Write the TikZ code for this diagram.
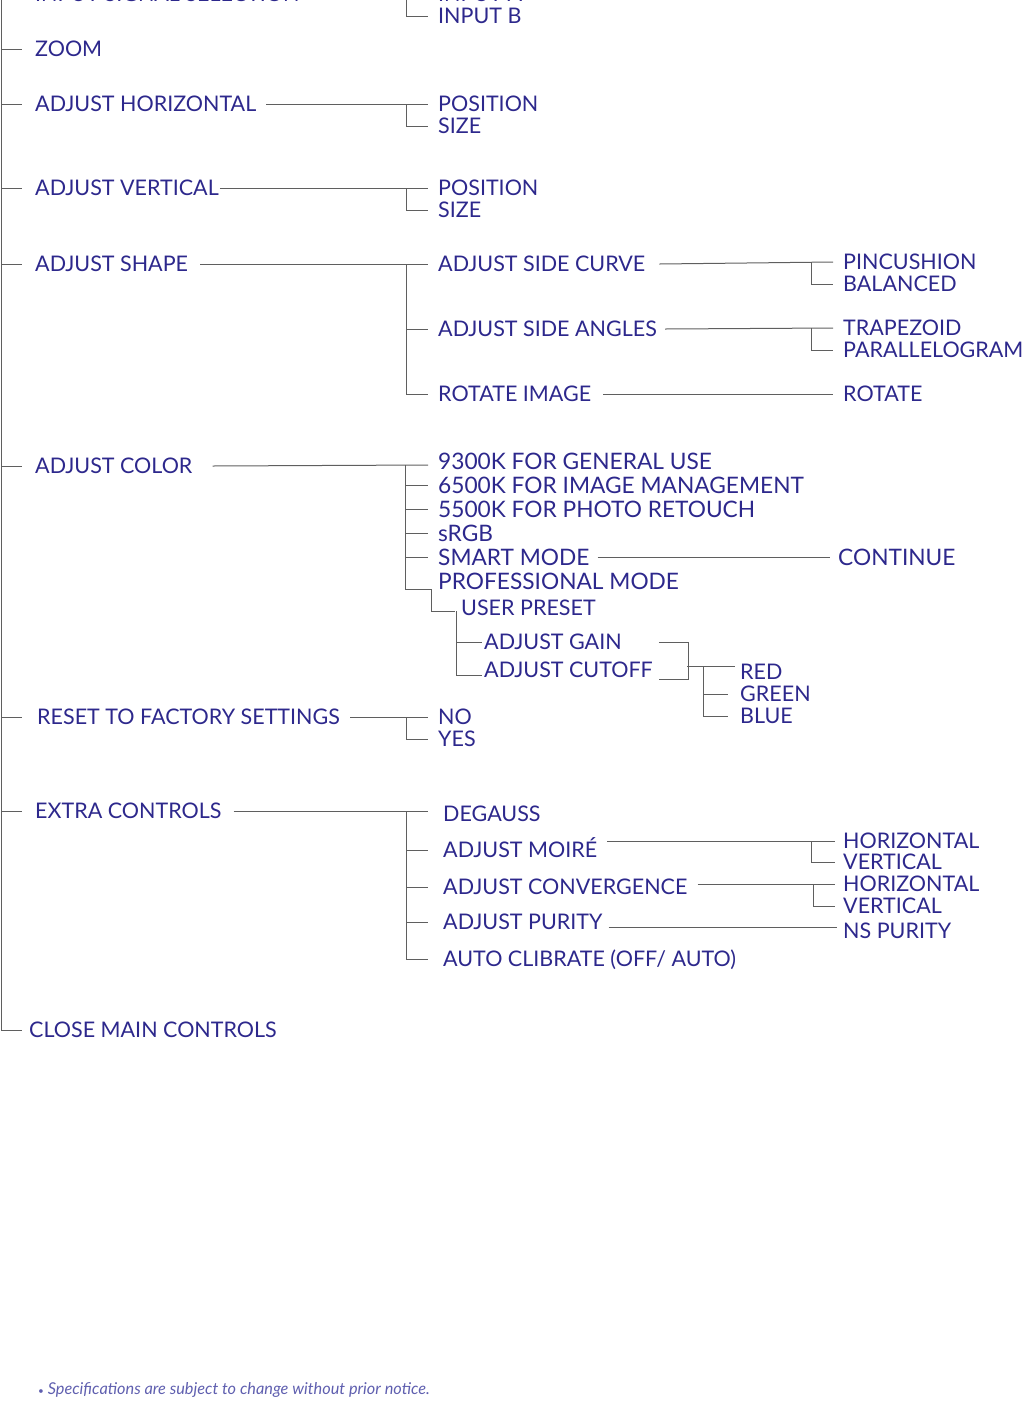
\documentclass[tikz,border=0pt]{standalone}
\usepackage{fontspec}
\setmainfont{Lato}
\definecolor{navy}{RGB}{45,40,140}
\definecolor{notec}{RGB}{95,95,175}
\definecolor{lg}{RGB}{95,95,95}
\newcommand{\mainf}{\fontsize{21.5}{25}\selectfont}
\newcommand{\bigf}{\fontsize{22.7}{26}\selectfont}
\begin{document}
\begin{tikzpicture}[x=1pt,y=-1pt,
  t/.style={anchor=west,inner sep=0pt,text height=15.5pt,text depth=0pt,font=\mainf,text=navy},
  tb/.style={t,font=\bigf,text height=16.3pt},
  ln/.style={draw=lg,line width=1pt}]
\useasboundingbox (0,0) rectangle (1023,1401);
\clip (0,0) rectangle (1023,1401);
% left column
\node[t] (iss) at (35,-6) {INPUT SIGNAL SELECTION};
\node[t] (zoom) at (35,49) {ZOOM};
\node[t] (ahor) at (35,104) {ADJUST HORIZONTAL};
\node[t] (aver) at (35,188) {ADJUST VERTICAL};
\node[t] (ashape) at (35,264) {ADJUST SHAPE};
\node[t] (acolor) at (35,466) {ADJUST COLOR};
\node[t] (reset) at (37,717) {RESET TO FACTORY SETTINGS};
\node[t] (extra) at (35,811) {EXTRA CONTROLS};
\node[t] (close) at (29,1030) {CLOSE MAIN CONTROLS};
% second column
\node[t] (ina) at (438,-6) {INPUT A};
\node[t] (inb) at (438,16) {INPUT B};
\node[t] (hpos) at (438,104) {POSITION};
\node[t] (hsize) at (438,126) {SIZE};
\node[t] (vpos) at (438,188) {POSITION};
\node[t] (vsize) at (438,210) {SIZE};
\node[t] (curve) at (438,264) {ADJUST SIDE CURVE};
\node[t] (angles) at (438,329) {ADJUST SIDE ANGLES};
\node[t] (rotimg) at (438,394) {ROTATE IMAGE};
\node[tb] (c93) at (438,461) {9300K FOR GENERAL USE};
\node[tb] (c65) at (438,485) {6500K FOR IMAGE MANAGEMENT};
\node[tb] (c55) at (438,509) {5500K FOR PHOTO RETOUCH};
\node[tb] (srgb) at (438,533) {sRGB};
\node[tb] (smart) at (438,557) {SMART MODE};
\node[tb] (prof) at (438,581) {PROFESSIONAL MODE};
\node[t] (user) at (461,608) {USER PRESET};
\node[t] (gain) at (484,642) {ADJUST GAIN};
\node[t] (cutoff) at (484,670) {ADJUST CUTOFF};
\node[t] (no) at (438,717) {NO};
\node[t] (yes) at (438,739) {YES};
\node[t] (degauss) at (443,814) {DEGAUSS};
\node[t] (moire) at (443,850) {ADJUST MOIRÉ};
\node[t] (conv) at (443,887) {ADJUST CONVERGENCE};
\node[t] (purity) at (443,922) {ADJUST PURITY};
\node[t] (auto) at (443,959) {AUTO CLIBRATE (OFF/ AUTO)};
% third column
\node[t] (pin) at (843,262) {PINCUSHION};
\node[t] (bal) at (843,284) {BALANCED};
\node[t] (trap) at (843,328) {TRAPEZOID};
\node[t] (para) at (843,350) {PARALLELOGRAM};
\node[t] (rotate) at (843,394) {ROTATE};
\node[tb] (cont) at (838,557) {CONTINUE};
\node[t] (red) at (740,672) {RED};
\node[t] (green) at (740,694) {GREEN};
\node[t] (blue) at (740,716) {BLUE};
\node[t] (mh) at (843,841) {HORIZONTAL};
\node[t] (mv) at (843,862) {VERTICAL};
\node[t] (ch) at (843,884) {HORIZONTAL};
\node[t] (cv) at (843,906) {VERTICAL};
\node[t] (ns) at (843,931) {NS PURITY};
% footnote
\node[anchor=west,inner sep=0pt,text=notec,font=\fontsize{16.3}{19}\selectfont\itshape] (note) at (38,1390) {{\upshape\fontsize{10}{10}\selectfont\textbullet}\ Specifications are subject to change without prior notice.};
% spine
\coordinate (sp) at (1,-10);
\draw[ln] (sp) |- ([xshift=-7]close.west);
\foreach \n in {iss,zoom,ahor,aver,ashape,acolor,extra}
  \draw[ln] (sp |- \n.west) -- ([xshift=-13]\n.west);
\draw[ln] (sp |- reset.west) -- ([xshift=-15]reset.west);
% input
\draw[ln] ([xshift=10]iss.east) -- ([xshift=-10]ina.west);
\draw[ln] ([xshift=-32]ina.west) |- ([xshift=-10]inb.west);
% horizontal / vertical
\draw[ln] ([xshift=10]ahor.east) -- ([xshift=-10]hpos.west);
\draw[ln] ([xshift=-32]hpos.west) |- ([xshift=-10]hsize.west);
\draw[ln] ([xshift=1]aver.east) -- ([xshift=-10]vpos.west);
\draw[ln] ([xshift=-32]vpos.west) |- ([xshift=-10]vsize.west);
% shape
\draw[ln] ([xshift=12]ashape.east) -- ([xshift=-10]curve.west);
\draw[ln] ([xshift=-32]curve.west) |- ([xshift=-10]rotimg.west);
\draw[ln] ([xshift=-32]angles.west) -- ([xshift=-10]angles.west);
\draw[ln] ([xshift=14]curve.east) -- ([xshift=-10]pin.west);
\draw[ln] ([xshift=-32]pin.west) |- ([xshift=-10]bal.west);
\draw[ln] ([xshift=8]angles.east) -- ([xshift=-10]trap.west);
\draw[ln] ([xshift=-32]trap.west) |- ([xshift=-10]para.west);
\draw[ln] ([xshift=12]rotimg.east) -- ([xshift=-10]rotate.west);
% color
\draw[ln] ([xshift=20]acolor.east) -- ([xshift=-10,yshift=-4]c93.west);
\draw[ln] ([xshift=-33,yshift=-4]c93.west) |- ([xshift=-6]prof.south west);
\foreach \n in {c65,c55,srgb,smart}
  \draw[ln] ([xshift=-33]\n.west) -- ([xshift=-10]\n.west);
\draw[ln] ([xshift=-7]prof.south west) |- ([xshift=-6,yshift=-3]user.west);
\coordinate (uv) at ([xshift=-5,yshift=-3]user.west);
\draw[ln] (uv) |- ([xshift=-2,yshift=-5]cutoff.west);
\draw[ln] (uv |- gain.west) -- ([xshift=-2]gain.west);
\coordinate (ga) at ([xshift=37]gain.east);
\coordinate (cb) at ([yshift=-9]cutoff.east);
\draw[ln] (ga) -- ++(30,0) |- (ga |- cb);
\draw[ln] ([xshift=-53,yshift=6]red.west) -- ([xshift=-5,yshift=6]red.west);
\draw[ln] ([xshift=-37,yshift=6]red.west) |- ([xshift=-12]blue.west);
\draw[ln] ([xshift=-37]green.west) -- ([xshift=-12]green.west);
\draw[ln] ([xshift=8]smart.east) -- ([xshift=-8]cont.west);
% reset
\draw[ln] ([xshift=10]reset.east) -- ([xshift=-10]no.west);
\draw[ln] ([xshift=-32]no.west) |- ([xshift=-10]yes.west);
% extra
\draw[ln] ([xshift=12,yshift=0]extra.east) -- ([xshift=-15,yshift=3]degauss.west);
\draw[ln] ([xshift=-37,yshift=3]degauss.west) |- ([xshift=-15]auto.west);
\foreach \n in {moire,conv,purity}
  \draw[ln] ([xshift=-37]\n.west) -- ([xshift=-15]\n.west);
\draw[ln] ([xshift=10]moire.east |- mh.west) -- ([xshift=-8]mh.west);
\draw[ln] ([xshift=-32]mh.west) |- ([xshift=-8]mv.west);
\draw[ln] ([xshift=10]conv.east |- ch.west) -- ([xshift=-8]ch.west);
\draw[ln] ([xshift=-30]ch.west) |- ([xshift=-8]cv.west);
\draw[ln] ([xshift=6,yshift=-5]purity.east) -- ([xshift=-6,yshift=-5]purity.east -| ns.west);
\end{tikzpicture}
\end{document}
